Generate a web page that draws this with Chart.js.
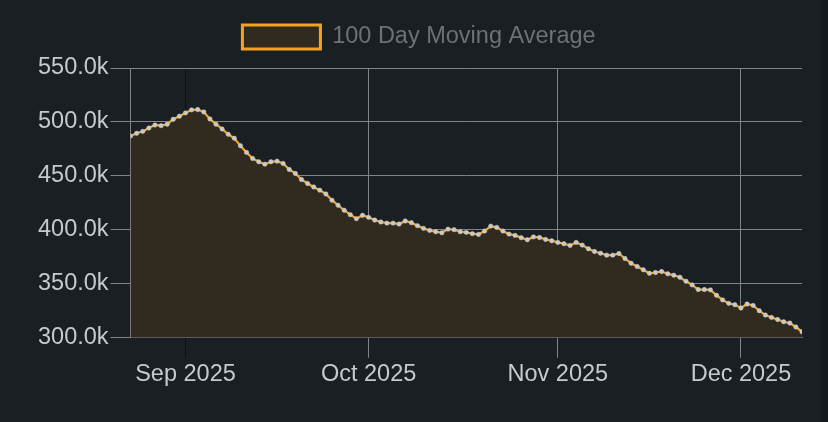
<!DOCTYPE html>
<html lang="en">
	<head>
		<meta charset="UTF-8" />
		<meta name="viewport" content="width=device-width, initial-scale=1.0" />
		<title>100 Day Moving Average</title>
		<script src="https://cdn.jsdelivr.net/npm/chart.js@4.4.1/dist/chart.umd.min.js"></script>
		<style>
			html, body { margin: 0; padding: 0; background: #1a1f24; }
			#wrap { position: relative; width: 828px; height: 422px; background: #1a1f24; }
			#strip { position: absolute; top: 0; right: 0; width: 7px; height: 422px; background: #15191d; }
		</style>
	</head>
	<body>
		<div id="wrap">
			<canvas id="myChart" width="828" height="422"></canvas>
			<div id="strip"></div>
		</div>

		<script>
			// one point per day, Aug 23 -> Dec 11 2025
			const dates = [
				"2025-08-23", "2025-08-24", "2025-08-25", "2025-08-26", "2025-08-27", "2025-08-28", "2025-08-29", "2025-08-30", "2025-08-31",
				"2025-09-01", "2025-09-02", "2025-09-03", "2025-09-04", "2025-09-05", "2025-09-06", "2025-09-07", "2025-09-08", "2025-09-09", "2025-09-10",
				"2025-09-11", "2025-09-12", "2025-09-13", "2025-09-14", "2025-09-15", "2025-09-16", "2025-09-17", "2025-09-18", "2025-09-19", "2025-09-20",
				"2025-09-21", "2025-09-22", "2025-09-23", "2025-09-24", "2025-09-25", "2025-09-26", "2025-09-27", "2025-09-28", "2025-09-29", "2025-09-30",
				"2025-10-01", "2025-10-02", "2025-10-03", "2025-10-04", "2025-10-05", "2025-10-06", "2025-10-07", "2025-10-08", "2025-10-09", "2025-10-10",
				"2025-10-11", "2025-10-12", "2025-10-13", "2025-10-14", "2025-10-15", "2025-10-16", "2025-10-17", "2025-10-18", "2025-10-19", "2025-10-20",
				"2025-10-21", "2025-10-22", "2025-10-23", "2025-10-24", "2025-10-25", "2025-10-26", "2025-10-27", "2025-10-28", "2025-10-29", "2025-10-30",
				"2025-10-31",
				"2025-11-01", "2025-11-02", "2025-11-03", "2025-11-04", "2025-11-05", "2025-11-06", "2025-11-07", "2025-11-08", "2025-11-09", "2025-11-10",
				"2025-11-11", "2025-11-12", "2025-11-13", "2025-11-14", "2025-11-15", "2025-11-16", "2025-11-17", "2025-11-18", "2025-11-19", "2025-11-20",
				"2025-11-21", "2025-11-22", "2025-11-23", "2025-11-24", "2025-11-25", "2025-11-26", "2025-11-27", "2025-11-28", "2025-11-29", "2025-11-30",
				"2025-12-01", "2025-12-02", "2025-12-03", "2025-12-04", "2025-12-05", "2025-12-06", "2025-12-07", "2025-12-08", "2025-12-09", "2025-12-10",
				"2025-12-11",
			];

			// moving average, in thousands
			const movingAvg = [
				487.0, 489.5, 491.3, 494.4, 497.2, 496.6, 497.9, 502.5, 505.3,
				508.4, 511.2, 511.5, 509.3, 502.8, 497.9, 493.5, 488.6, 484.9, 478.0, 471.8, 466.2, 463.1,
				460.9, 463.1, 463.7, 461.5, 456.0, 452.3, 446.7, 443.0, 439.8, 436.8, 433.3, 427.5, 422.8, 418.2, 414.1, 410.4, 413.5,
				411.6, 409.1, 407.3, 406.3, 406.3,
				405.4, 408.2, 406.7, 403.9, 401.4, 399.5, 398.3, 397.4, 400.7, 400.2, 398.3, 397.7, 396.5, 395.8, 398.9, 403.5,
				402.3, 398.9, 396.1, 394.9, 392.8, 390.9, 393.5,
				393.0, 391.2, 389.9, 388.4, 387.2, 385.6, 388.4, 385.9, 382.5, 380.0, 378.4, 376.6, 376.6, 378.1, 373.5, 369.1,
				366.1, 363.0, 359.8, 360.5, 361.4, 359.3,
				358.0, 356.1, 352.4, 349.0, 344.7, 344.7, 344.4, 339.4, 335.1, 331.9, 330.7, 327.6, 331.3, 330.0, 325.1, 321.1,
				318.9, 317.0, 314.9, 313.7, 310.0, 305.6,
			];

			const tickDates = ["2025-09-01", "2025-10-01", "2025-11-01", "2025-12-01"];
			const tickLabels = ["Sep 2025", "Oct 2025", "Nov 2025", "Dec 2025"];

			const FONT = "'Liberation Sans', Arial, Helvetica, sans-serif";
			const gridColor = "#818385";

			const points = dates.map((d, i) => ({ x: Date.parse(d), y: movingAvg[i] }));

			// a bit more room under the legend
			const legendGap = {
				id: "legendGap",
				beforeInit(chart) {
					const fit = chart.legend.fit;
					chart.legend.fit = function () {
						fit.call(this);
						this.height += 9;
					};
				},
			};

			const ctx = document.getElementById("myChart").getContext("2d");

			new Chart(ctx, {
				type: "line",
				plugins: [legendGap],
				data: {
					datasets: [
						{
							label: "100 Day Moving Average",
							data: points,
							borderColor: "#f4a51c",
							backgroundColor: "#302a1f",
							borderWidth: 2.2,
							fill: "start",
							tension: 0,
							pointRadius: 2.2,
							pointBorderWidth: 0.5,
							pointBackgroundColor: "#c9c9c9",
							pointBorderColor: "#c9c9c9",
						},
					],
				},
				options: {
					responsive: false,
					animation: false,
					layout: { padding: { left: 36, right: 26, top: 4, bottom: 30 } },
					plugins: {
						tooltip: { enabled: false },
						legend: {
							labels: {
								color: "#6d7175",
								font: { family: FONT, size: 23.5 },
								boxWidth: 78,
								boxHeight: 24,
								padding: 21,
								generateLabels(chart) {
									const items = Chart.defaults.plugins.legend.labels.generateLabels(chart);
									items.forEach((it) => (it.lineWidth = 3));
									return items;
								},
							},
						},
					},
					scales: {
						x: {
							type: "linear",
							min: Date.parse(dates[0]),
							max: Date.parse(dates[dates.length - 1]),
							afterBuildTicks(scale) {
								scale.ticks = tickDates.map((d) => ({ value: Date.parse(d) }));
							},
							ticks: {
								color: "#c6cacd",
								font: { family: FONT, size: 23.5 },
								padding: 3,
								maxRotation: 0,
								callback: (v) => tickLabels[tickDates.findIndex((d) => Date.parse(d) === v)],
							},
							grid: {
								color: (c) => (c.index === 0 ? "rgba(0,0,0,0.45)" : gridColor),
								tickLength: 20,
							},
							border: { color: gridColor },
						},
						y: {
							min: 300,
							max: 550,
							ticks: {
								stepSize: 50,
								color: "#c6cacd",
								font: { family: FONT, size: 23.5 },
								padding: 2,
								callback: (v) => v.toFixed(1) + "k",
							},
							grid: { color: gridColor, tickLength: 20 },
							border: { color: gridColor },
						},
					},
				},
			});
		</script>
	</body>
</html>
